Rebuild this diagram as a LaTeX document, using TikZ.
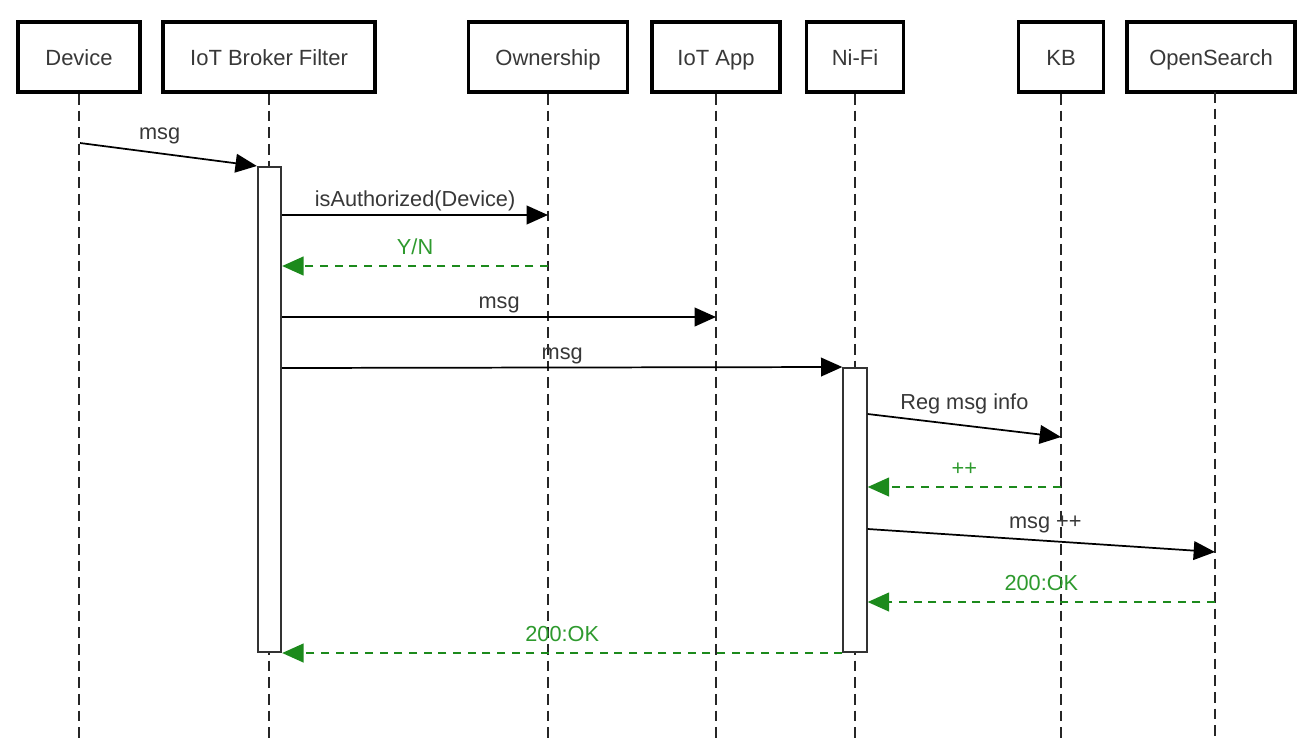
\documentclass[tikz,border=0pt]{standalone}
\usepackage{fontspec}
\setmainfont{Liberation Sans}
\usetikzlibrary{arrows.meta}
\definecolor{txt}{HTML}{383838}
\definecolor{grn}{HTML}{1C8A1C}
\definecolor{grntxt}{HTML}{2E9A2E}
\begin{document}
\begin{tikzpicture}[x=0.75pt,y=-0.75pt,
  actor/.style={draw=black,line width=2.8pt,fill=white,minimum height=52.5pt,inner sep=0pt,text=txt,font=\fontsize{16.5}{19}\selectfont,text height=14.5pt,text depth=2.5pt},
  life/.style={draw=black!85,line width=1.7pt,dash pattern=on 8pt off 4.5pt},
  actbox/.style={draw=black!80,line width=1.5pt,fill=white,inner sep=0pt,minimum width=17.5pt},
  call/.style={draw=black,line width=1.3pt,-{Triangle[length=16pt,width=14pt]}},
  reply/.style={draw=grn,line width=1.5pt,dash pattern=on 6pt off 5pt,-{Triangle[length=16pt,width=14pt]}},
  lbl/.style={text=txt,font=\fontsize{16.3}{19}\selectfont,inner sep=2pt},
  glbl/.style={text=grntxt,font=\fontsize{16.3}{19}\selectfont,inner sep=2pt,above=6pt}
]
\useasboundingbox (0,0) rectangle (1301,739);
\fill[white] (0,0) rectangle (1301,739);

% actors
\node[actor,minimum width=91.5pt] (dev) at (79,57) {Device};
\node[actor,minimum width=159pt] (brk) at (269,57) {IoT Broker Filter};
\node[actor,minimum width=119.25pt] (own) at (548,57) {Ownership};
\node[actor,minimum width=96pt] (app) at (716,57) {IoT App};
\node[actor,minimum width=72.75pt] (nifi) at (855,57) {Ni-Fi};
\node[actor,minimum width=63.75pt] (kb) at (1061,57) {KB};
\node[actor,minimum width=126pt] (os) at (1211,57) {OpenSearch};

% lifelines
\coordinate (osl) at (1215,92);
\draw[life] (dev.south) -- (dev.south |- 0,739);
\draw[life] (brk.south) -- (brk.south |- 0,739);
\draw[life] (own.south) -- (own.south |- 0,739);
\draw[life] (app.south) -- (app.south |- 0,739);
\draw[life] (nifi.south) -- (nifi.south |- 0,739);
\draw[life] (kb.south) -- (kb.south |- 0,739);
\draw[life] (osl) -- (osl |- 0,739);

% activations
\node[actbox,minimum height=363.75pt] (act1) at (269.5,409.5) {};
\node[actbox,minimum height=213pt] (act2) at (855,510) {};

% messages
\coordinate (m1s) at (80,143);
\draw[call] (m1s) -- (act1.north west) node[lbl,pos=0.45,above=4pt] {msg};

\draw[call] (act1.east |- 0,215) -- (own.south |- 0,215) node[lbl,midway,above] {isAuthorized(Device)};
\draw[reply] (own.south |- 0,266) -- (act1.east |- 0,266) node[glbl,midway] {Y/N};
\draw[call] (act1.east |- 0,317) -- (app.south |- 0,317) node[lbl,midway,above] {msg};
\draw[call] (act1.east |- 0,368) -- (act2.north west) node[lbl,midway,above] {msg};

\draw[call] (act2.east |- 0,414) -- (kb.south |- 0,437) node[lbl,midway,above=6pt] {Reg msg info};
\draw[reply] (kb.south |- 0,487) -- (act2.east |- 0,487) node[glbl,midway] {++};
\draw[call] (act2.east |- 0,529) -- (osl |- 0,552) node[lbl,midway,above=3pt,xshift=3pt] {msg ++};
\draw[reply] (osl |- 0,602) -- (act2.east |- 0,602) node[glbl,midway] {200:OK};
\draw[reply] (act2.south west) -- (act1.south east) node[glbl,midway] {200:OK};
\end{tikzpicture}
\end{document}
